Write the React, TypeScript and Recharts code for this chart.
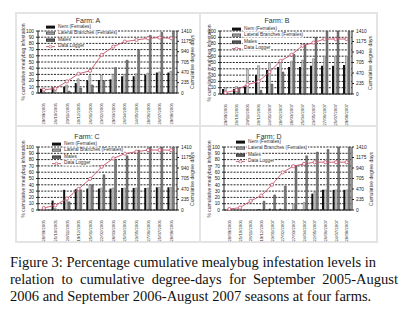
import React from 'react';
import { ComposedChart, Bar, Line, XAxis, YAxis, CartesianGrid } from 'recharts';

// sampling dates (x categories)
const datesA = ['29/09/2005', '26/10/2005', '29/11/2005', '20/12/2005', '26/01/2006', '23/02/2006', '29/03/2006', '26/04/2006', '24/05/2006', '28/06/2006', '26/07/2006', '29/08/2006'];
const datesB = ['29/09/2006', '26/10/2006', '29/11/2006', '20/12/2006', '24/01/2007', '28/02/2007', '28/03/2007', '25/04/2007', '23/05/2007', '27/06/2007', '25/07/2007', '29/08/2007'];
const datesC = ['28/09/2005', '25/10/2005', '28/11/2005', '19/12/2005', '25/01/2006', '22/02/2006', '28/03/2006', '25/04/2006', '23/05/2006', '27/06/2006', '25/07/2006', '28/08/2006'];
const datesD = ['28/09/2006', '25/10/2006', '28/11/2006', '19/12/2006', '23/01/2007', '27/02/2007', '27/03/2007', '24/04/2007', '22/05/2007', '26/06/2007', '24/07/2007', '28/08/2007'];

// % cumulative infestation + cumulative degree days
const nemA = [7, 9, 10, 16, 20, 21, 22, 27, 27, 29, 33, 33];
const lateralA = [7, 9, 13, 23, 28, 29, 30, 30, 31, 32, 34, 35];
const malesA = [0, 0, 3, 8, 13, 20, 41, 53, 70, 93, 98, 100];
const loggerA = [75, 100, 264, 437, 505, 867, 1055, 1169, 1206, 1244, 1260, 1244];

const nemB = [8, 8, 12, 30, 38, 43, 43, 43, 45, 45, 45, 46];
const lateralB = [10, 12, 39, 45, 50, 50, 52, 54, 56, 60, 60, 60];
const malesB = [0, 10, 0, 6, 16, 35, 63, 78, 90, 100, 100, 100];
const loggerB = [30, 90, 210, 280, 490, 740, 880, 1080, 1150, 1230, 1230, 1230];

const nemC = [0, 15, 32, 33, 34, 34, 34, 35, 35, 35, 36, 36];
const lateralC = [0, 3, 20, 34, 40, 35, 35, 35, 35, 35, 36, 36];
const malesC = [0, 0, 13, 32, 40, 56, 80, 86, 95, 100, 100, 100];
const loggerC = [45, 105, 255, 472, 697, 967, 1155, 1260, 1305, 1342, 1342, 1340];

const nemD = [0, 0, 0, 1, 2, 2, 0, 0, 26, 32, 32, 32];
const lateralD = [0, 0, 0, 0, 0, 0, 9, 12, 29, 32, 32, 32];
const malesD = [0, 0, 0, 14, 24, 38, 70, 86, 92, 96, 100, 100];
const loggerD = [22, 52, 203, 323, 565, 843, 980, 1032, 1070, 1070, 1070, 1070];

const pctTicks = [0, 10, 20, 30, 40, 50, 60, 70, 80, 90, 100];
const ddTicks = [0, 235, 470, 705, 940, 1175, 1410];

const legendLabels = ['Nem (Females)', 'Lateral Branches (Females)', 'Males', 'Data Logger'];

const RED = '#c4526a';

const DateTick = ({ x, y, payload }: any) => (
  <text x={x} y={y} transform={`rotate(-90 ${x} ${y})`} textAnchor="end" dx={-2} dy={1.6} fontSize={4.3} fill="#333">
    {payload.value}
  </text>
);

const FarmPanel = ({ title, dates, nem, lateral, males, logger, plot, titlePos, leftTitleX, rightTitleX, legendPos }: any) => {
  const data = dates.map((d: string, i: number) => ({
    date: d,
    nem: nem[i],
    lateral: lateral[i],
    males: males[i],
    logger: logger[i],
  }));
  const axisW = 36;
  const topM = 22;
  const xH = 34;
  const w = plot.r - plot.l + axisW * 2;
  const h = plot.b - plot.t + topM + xH;
  const midY = (plot.t + plot.b) / 2;

  const abs = (x: number, y: number, extra: any = {}) => ({
    position: 'absolute' as const,
    left: x,
    top: y,
    whiteSpace: 'nowrap' as const,
    lineHeight: 1,
    ...extra,
  });

  return (
    <>
      <div style={{ position: 'absolute', left: plot.l - axisW, top: plot.t - topM }}>
        <ComposedChart width={w} height={h} data={data} margin={{ top: topM, right: 0, bottom: 0, left: 0 }} barGap={0.5} barCategoryGap={2}>
          <CartesianGrid yAxisId="pct" vertical={false} stroke="#111" strokeDasharray="2 1.2" strokeWidth={0.9} />
          <XAxis dataKey="date" interval={0} height={xH} tick={<DateTick />} tickLine={false} axisLine={{ stroke: '#222' }} />
          <YAxis yAxisId="pct" orientation="left" width={axisW} domain={[0, 100]} ticks={pctTicks} interval={0}
            tick={{ fontSize: 4.8, fill: '#222' }} tickSize={2} tickMargin={2} axisLine={{ stroke: '#222' }} tickLine={{ stroke: '#222' }} />
          <YAxis yAxisId="dd" orientation="right" width={axisW} domain={[0, 1410]} ticks={ddTicks} interval={0}
            tick={{ fontSize: 4.8, fill: '#222' }} tickSize={2} tickMargin={2} axisLine={{ stroke: '#222' }} tickLine={{ stroke: '#222' }} />
          <Bar yAxisId="pct" dataKey="nem" fill="#111" isAnimationActive={false} />
          <Bar yAxisId="pct" dataKey="lateral" fill="#c8c8c8" stroke="#555" strokeWidth={0.4} isAnimationActive={false} />
          <Bar yAxisId="pct" dataKey="males" fill="#7a7a7a" stroke="#333" strokeWidth={0.4} isAnimationActive={false} />
          <Line yAxisId="dd" dataKey="logger" stroke={RED} strokeWidth={0.9} isAnimationActive={false}
            dot={{ r: 1.6, fill: '#fff', stroke: RED, strokeWidth: 0.8 }} />
        </ComposedChart>
      </div>
      <div style={abs(titlePos[0], titlePos[1], { transform: 'translate(-50%, -50%)', fontSize: 7, color: '#333' })}>{title}</div>
      <div style={abs(leftTitleX, midY, { transform: 'translate(-50%, -50%) rotate(-90deg)', fontSize: 5, color: '#333' })}>
        % cumulative mealybug infestation
      </div>
      <div style={abs(rightTitleX, midY, { transform: 'translate(-50%, -50%) rotate(-90deg)', fontSize: 5, color: '#333' })}>
        Cumulative degree days
      </div>
      {legendLabels.map((lab, i) => (
        <div key={lab} style={abs(legendPos[0], legendPos[1] + i * 6.4, { transform: 'translateY(-50%)', display: 'flex', alignItems: 'center', fontSize: 4.8, color: '#333' })}>
          {i < 3 ? (
            <span style={{
              display: 'inline-block', width: 9, height: 3.2, boxSizing: 'border-box',
              background: ['#111', '#c8c8c8', '#7a7a7a'][i],
              border: i === 0 ? 'none' : `0.5px solid ${i === 1 ? '#555' : '#333'}`,
            }} />
          ) : (
            <svg width={9} height={4} style={{ display: 'block' }}>
              <line x1={0} y1={2} x2={9} y2={2} stroke={RED} strokeWidth={0.9} />
              <circle cx={4.5} cy={2} r={1.4} fill="#fff" stroke={RED} strokeWidth={0.7} />
            </svg>
          )}
          <span style={{ background: '#fff', marginLeft: 2, padding: '0 1px' }}>{lab}</span>
        </div>
      ))}
    </>
  );
};

export default function App() {
  const border = '#e4e4e4';
  return (
    <div style={{ position: 'absolute', left: 0, top: 0, width: 411, height: 313, background: '#fff', fontFamily: '"Liberation Sans", Arial, sans-serif', overflow: 'hidden' }}>
      {/* table frame around the four farms */}
      <div style={{ position: 'absolute', left: 15, top: 12, width: 363, height: 231, border: `2px solid ${border}`, boxSizing: 'border-box' }} />
      <div style={{ position: 'absolute', left: 199, top: 12, width: 2, height: 231, background: border }} />
      <div style={{ position: 'absolute', left: 15, top: 125, width: 363, height: 2, background: border }} />

      <FarmPanel title="Farm: A" dates={datesA} nem={nemA} lateral={lateralA} males={malesA} logger={loggerA}
        plot={{ l: 38, t: 31, r: 177, b: 93 }} titlePos={[88, 20]} leftTitleX={23} rightTitleX={192} legendPos={[46, 27]} />
      <FarmPanel title="Farm: B" dates={datesB} nem={nemB} lateral={lateralB} males={malesB} logger={loggerB}
        plot={{ l: 220, t: 31, r: 352, b: 94 }} titlePos={[277, 20]} leftTitleX={209} rightTitleX={370} legendPos={[232, 29]} />
      <FarmPanel title="Farm: C" dates={datesC} nem={nemC} lateral={lateralC} males={malesC} logger={loggerC}
        plot={{ l: 38, t: 147, r: 177, b: 210 }} titlePos={[87, 136]} leftTitleX={23} rightTitleX={192} legendPos={[52, 144]} />
      <FarmPanel title="Farm: D" dates={datesD} nem={nemD} lateral={lateralD} males={malesD} logger={loggerD}
        plot={{ l: 224, t: 147, r: 352, b: 210 }} titlePos={[269, 136]} leftTitleX={209} rightTitleX={371} legendPos={[236, 142]} />

      <div style={{ position: 'absolute', left: 10, top: 254, width: 388, fontFamily: '"Liberation Serif", serif', fontSize: 14.5, lineHeight: '17px', color: '#111' }}>
        <div>Figure 3: Percentage cumulative mealybug infestation levels in</div>
        <div style={{ textAlign: 'justify', textAlignLast: 'justify' }}>relation to cumulative degree-days for September 2005-August</div>
        <div>2006 and September 2006-August 2007 seasons at four farms.</div>
      </div>
    </div>
  );
}
